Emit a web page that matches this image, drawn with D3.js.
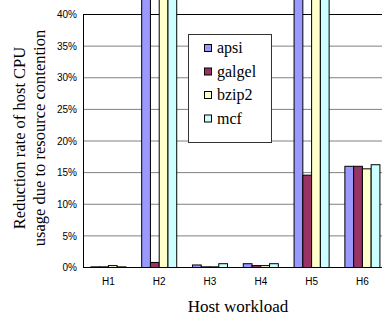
<!DOCTYPE html>
<html>
<head>
<meta charset="utf-8">
<script src="https://cdn.jsdelivr.net/npm/d3@7"></script>
<style>
  body { margin: 0; background: #fff; }
  svg { display: block; }
</style>
</head>
<body>
<div class="chart"></div>
<script>
// data (values in %; bars above 40 run off the top)
var hosts = ["H1", "H2", "H3", "H4", "H5", "H6"];
var series = ["apsi", "galgel", "bzip2", "mcf"];
var apsi   = [0.1, 45, 0.4, 0.6, 45, 16.0];
var galgel = [0.1, 0.8, 0.1, 0.3, 14.6, 16.0];
var bzip2  = [0.3, 45, 0.1, 0.3, 45, 15.6];
var mcf    = [0.1, 45, 0.6, 0.6, 45, 16.25];
var colors = ["#9999ff", "#993366", "#ffffcc", "#ccffff"];
var yTicks = [0, 5, 10, 15, 20, 25, 30, 35, 40];

var values = [apsi, galgel, bzip2, mcf];

//Width and height
var w = 382;
var h = 322;
var plotLeft = 83, plotTop = 14.5, plotBottom = 267.5;

var svg = d3.select(".chart")
            .append("svg")
            .attr("width", w)
            .attr("height", h);

var x = d3.scaleBand()
          .domain(hosts)
          .range([plotLeft, plotLeft + 6 * 50.8])
          .paddingInner(0.31)
          .paddingOuter(0.155);

var xi = d3.scaleBand()
           .domain(series)
           .range([0, x.bandwidth()]);

var y = d3.scaleLinear()
          .domain([0, 40])
          .range([plotBottom, plotTop]);

// gridlines
svg.append("g")
   .selectAll("line")
   .data(yTicks.slice(1))
   .enter()
   .append("line")
   .attr("x1", plotLeft)
   .attr("x2", w)
   .attr("y1", function(d) { return y(d); })
   .attr("y2", function(d) { return y(d); })
   .attr("stroke", function(d) { return d === 40 ? "#000" : "#808080"; })
   .attr("stroke-width", 1);

// y axis labels
var yAxis = d3.axisLeft(y)
              .tickValues(yTicks)
              .tickSize(0)
              .tickPadding(6)
              .tickFormat(function(d) { return d + "%"; });

var yg = svg.append("g")
            .attr("transform", "translate(" + plotLeft + ",0)")
            .call(yAxis);
yg.select(".domain").attr("stroke", "#000");
yg.selectAll("text")
  .attr("font-family", "Arial, 'Liberation Sans', sans-serif")
  .attr("font-size", 10)
  .attr("fill", "#000");

// bars
var groups = svg.append("g")
   .selectAll("g")
   .data(hosts)
   .enter()
   .append("g")
   .attr("transform", function(d) { return "translate(" + x(d) + ",0)"; });

groups.selectAll("rect")
   .data(function(d, i) {
     return series.map(function(s, j) { return { s: s, v: values[j][i], c: colors[j] }; });
   })
   .enter()
   .append("rect")
   .attr("x", function(d) { return xi(d.s); })
   .attr("y", function(d) { return Math.max(y(d.v), -2); })
   .attr("width", xi.bandwidth())
   .attr("height", function(d) { return plotBottom - Math.max(y(d.v), -2); })
   .attr("fill", function(d) { return d.c; })
   .attr("stroke", "#000")
   .attr("stroke-width", 1);

// x axis
var xAxis = d3.axisBottom(x).tickSize(0).tickPadding(10);
var xg = svg.append("g")
            .attr("transform", "translate(0," + plotBottom + ")")
            .call(xAxis);
xg.select(".domain").attr("stroke", "#000").attr("d", "M" + plotLeft + ",0H" + w);
xg.selectAll("text")
  .attr("font-family", "Arial, 'Liberation Sans', sans-serif")
  .attr("font-size", 10)
  .attr("fill", "#000");

// axis titles
svg.append("text")
   .attr("x", 238)
   .attr("y", 312)
   .attr("text-anchor", "middle")
   .attr("font-family", "'Liberation Serif', 'Times New Roman', serif")
   .attr("font-size", 17)
   .text("Host workload");

var yt = svg.append("text")
   .attr("transform", "translate(25,138) rotate(-90)")
   .attr("text-anchor", "middle")
   .attr("font-family", "'Liberation Serif', 'Times New Roman', serif")
   .attr("font-size", 16.5);
yt.append("tspan").attr("x", 0).attr("dy", 0).text("Reduction rate of host CPU");
yt.append("tspan").attr("x", 0).attr("dy", 20).text("usage due to resource contention");

// legend
var lg = svg.append("g");
lg.append("rect")
  .attr("x", 188.5).attr("y", 34.5)
  .attr("width", 83).attr("height", 108)
  .attr("fill", "#fff")
  .attr("stroke", "#333");

var items = lg.selectAll("g")
  .data(series)
  .enter()
  .append("g")
  .attr("transform", function(d, i) { return "translate(204," + (48 + i * 23.5) + ")"; });

items.append("rect")
  .attr("x", 0.5).attr("y", -3.5)
  .attr("width", 7).attr("height", 7)
  .attr("fill", function(d, i) { return colors[i]; })
  .attr("stroke", "#000");

items.append("text")
  .attr("x", 13)
  .attr("y", 5)
  .attr("font-family", "'Liberation Serif', 'Times New Roman', serif")
  .attr("font-size", 16)
  .text(function(d) { return d; });
</script>
</body>
</html>
